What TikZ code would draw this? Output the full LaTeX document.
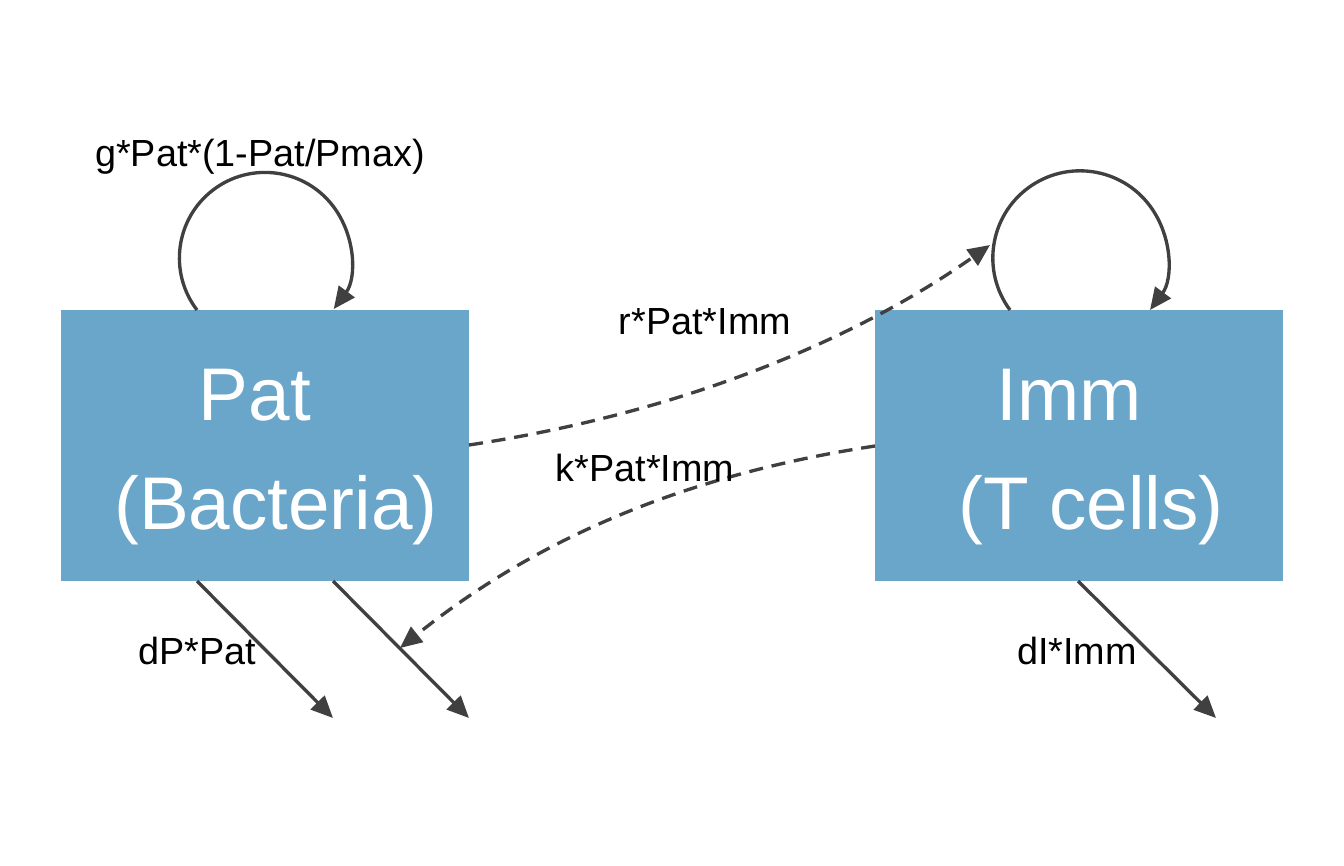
\documentclass[tikz,border=0pt]{standalone}
\usepackage{fontspec}
\setmainfont{Liberation Sans}
\usetikzlibrary{arrows.meta}
\definecolor{boxblue}{HTML}{6AA5CA}
\definecolor{linegray}{HTML}{404040}
\begin{document}
\begin{tikzpicture}[x=0.02cm,y=-0.02cm,
  compbox/.style={fill=boxblue,draw=none,minimum width=408*0.02cm,minimum height=271*0.02cm,inner sep=0,anchor=north west},
  bigtext/.style={text=white,font=\fontsize{42.5}{50}\selectfont,anchor=base,inner sep=0},
  flowlabel/.style={text=black,font=\fontsize{21.5}{26}\selectfont,anchor=base,inner sep=0},
  flow/.style={draw=linegray,line width=1.9pt,-{Triangle[length=12.5pt,width=11pt]}},
  dflow/.style={flow,dash pattern=on 8pt off 5pt}
]
\useasboundingbox (0,0) rectangle (1344,865);
\node[compbox] (pat) at (61,310) {};
\node[compbox] (imm) at (875,310) {};
\node[bigtext] (patA) at (255,420) {Pat};
\node[bigtext] (patB) at (276,529) {(Bacteria)};
\node[bigtext] (immA) at (1069,420) {Imm};
\node[bigtext] (immB) at (1091,529) {(T cells)};
% self loops
\coordinate (pl0) at (197,310);
\coordinate (il0) at (1010,310);
\draw[flow] (pl0) arc[start angle=142.6, end angle=396.6, radius=85.6];
\draw[flow] (il0) arc[start angle=143.4, end angle=396.6, radius=87.2];
\node[flowlabel] (lg) at (260,166) {g*Pat*(1-Pat/Pmax)};
% interactions
\coordinate (r0) at (469,445);
\coordinate (r1) at (990,245);
\draw[dflow] (r0) .. controls (700,410) and (870,330) .. (r1);
\node[flowlabel] (lr) at (705,334) {r*Pat*Imm};
\coordinate (k0) at (875,446);
\coordinate (k1) at (400,648);
\draw[dflow] (k0) .. controls (650,480) and (510,560) .. (k1);
\node[flowlabel] (lk) at (645,481) {k*Pat*Imm};
% outflows
\coordinate (p1) at (197,581); \coordinate (p1e) at (333,718);
\coordinate (p2) at (333,581); \coordinate (p2e) at (469,718);
\coordinate (i1) at (1078,581); \coordinate (i1e) at (1216,718);
\draw[flow] (p1) -- (p1e);
\draw[flow] (p2) -- (p2e);
\draw[flow] (i1) -- (i1e);
\node[flowlabel] (ldp) at (197,664) {dP*Pat};
\node[flowlabel] (ldi) at (1077,664) {dI*Imm};
\end{tikzpicture}
\end{document}
